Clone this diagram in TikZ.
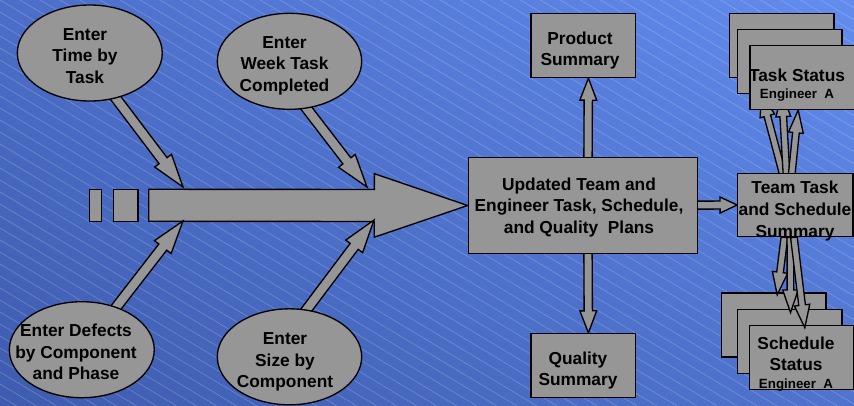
\documentclass[tikz,border=0pt]{standalone}
\usepackage{fontspec}
\setmainfont{Liberation Sans}
\usetikzlibrary{shapes.geometric,calc,shadings}

\definecolor{boxgray}{RGB}{150,150,150}
\definecolor{bgll}{RGB}{62,92,175}
\definecolor{bgul}{RGB}{76,110,200}
\definecolor{bglr}{RGB}{80,116,206}
\definecolor{bgur}{RGB}{98,140,238}

\pgfdeclarelayer{background}
\pgfdeclarelayer{connectors}
\pgfsetlayers{background,connectors,main}

\tikzset{every picture/.style={line width=0.75pt}}
\tikzset{
  sumbox/.style={draw, fill=boxgray, line width=1pt, minimum width=78.5pt, minimum height=48pt, inner sep=0pt},
  entry/.style={ellipse, draw, fill=boxgray, line width=1pt, inner sep=0pt, minimum width=108.7pt, minimum height=72pt},
  lbl/.style={inner sep=0pt, align=center, font=\fontsize{13}{16.3}\selectfont\bfseries},
  flowarrow/.style={draw, fill=boxgray, line width=1pt, line join=miter},
  hatch/.style={white, opacity=0.25, line width=0.4pt}
}

% block arrow: [back extension]{from}{to}{shaft half width}{head half width}{head length}
\newcommand{\blockarrow}[6][6pt]{%
  \coordinate (ba-s) at ($(#2)!-#1!(#3)$);
  \coordinate (ba-h) at ($(#3)!#6!(#2)$);
  \path[flowarrow] ($(ba-s)!#4!90:(#3)$) -- ($(ba-h)!#4!90:(#3)$) -- ($(ba-h)!#5!90:(#3)$) -- (#3)
    -- ($(ba-h)!#5!-90:(#3)$) -- ($(ba-h)!#4!-90:(#3)$) -- ($(ba-s)!#4!-90:(#3)$) -- cycle;}

\begin{document}
\begin{tikzpicture}[x=0.75pt,y=0.75pt,yscale=-1,xscale=1]
    \useasboundingbox (0,0) rectangle (854,405);

    % Background
    \begin{pgfonlayer}{background}
    \shade[lower left=bgll, upper left=bgul, lower right=bglr, upper right=bgur] (0,0) rectangle (854,405);
    \begin{scope}
    \clip (0,0) rectangle (854,405);
    \foreach \c in {-516,-504,...,408} \draw[hatch] (0,\c) -- (854,\c+512);
    \end{scope}
    \end{pgfonlayer}

    %Shape: Ellipse
    \node[entry] (time) at (89.8,53) {};
    %Shape: Ellipse
    \node[entry, minimum width=108.3pt] (week) at (289.5,61.3) {};
    %Shape: Ellipse
    \node[entry] (defect) at (81.8,349.7) {};
    %Shape: Ellipse
    \node[entry, minimum width=108.3pt] (size) at (289.5,356.8) {};

    %Shape: Rectangle
    \node[sumbox, minimum width=172pt, minimum height=71.7pt] (plan) at (583,205.5) {};
    %Shape: Rectangle
    \node[sumbox] (product) at (583.4,45.5) {};
    %Shape: Rectangle
    \node[sumbox] (quality) at (583.4,365.5) {};
    %Shape: Rectangle
    \node[sumbox, minimum width=86.5pt, minimum height=47.5pt] (team) at (795.4,205) {};

    %Shape: Rectangle stack
    \node[sumbox] (taskback) at (781.7,45.5) {};
    \node[sumbox] (taskmid) at (789.5,61.3) {};
    \node[sumbox] (taskfront) at (802.2,77.5) {};
    %Shape: Rectangle stack
    \node[sumbox] (schedback) at (773.7,325) {};
    \node[sumbox] (schedmid) at (789.5,341.3) {};
    \node[sumbox] (schedfront) at (801.8,357.3) {};

    %Shape: Rectangle
    \draw[flowarrow] (89.3,189.3) rectangle (101.3,221.3);
    %Shape: Rectangle
    \draw[flowarrow] (113.3,189.3) rectangle (138,221.3);

    \coordinate (flow-start) at (148.7,205.3);
    \coordinate (time-in) at (183,187);
    \coordinate (week-in) at (367,187);
    \coordinate (defect-in) at (183,221);
    \coordinate (size-in) at (374,220);
    \coordinate (plan-up) at ($(plan.north)+(5,0)$);
    \coordinate (product-in) at ($(product.south)+(5,0)$);
    \coordinate (plan-down) at ($(plan.south)+(5,0)$);
    \coordinate (quality-in) at ($(quality.north)+(5,0)$);
    \coordinate (team-up-a) at ($(team.north)+(-13,0)$);
    \coordinate (team-up-b) at ($(team.north)+(-9,0)$);
    \coordinate (team-up-c) at ($(team.north)+(-3.5,0)$);
    \coordinate (task-in-a) at ($(taskmid.south)+(-28,0)$);
    \coordinate (task-in-b) at ($(taskmid.south)+(-7.5,0)$);
    \coordinate (task-in-c) at ($(taskfront.south)+(-4,0)$);
    \coordinate (team-dn-a) at ($(team.south)+(-11,0)$);
    \coordinate (team-dn-b) at ($(team.south)+(-5,0)$);
    \coordinate (team-dn-c) at ($(team.south)+(-1.5,0)$);
    \coordinate (sched-in-a) at ($(schedback.north)+(3.5,2.5)$);
    \coordinate (sched-in-b) at ($(schedmid.north)+(1,4)$);
    \coordinate (sched-in-c) at ($(schedfront.north)+(3,3)$);

    %Block Arrows
    \begin{pgfonlayer}{connectors}
    \blockarrow[0pt]{flow-start}{plan.west}{12pt}{23.8pt}{70pt}
    \blockarrow{time.-60}{time-in}{3.75pt}{7.9pt}{24.75pt}
    \blockarrow{week.-70}{week-in}{3.75pt}{7.9pt}{24.75pt}
    \blockarrow{defect.51}{defect-in}{3.75pt}{7.9pt}{24.75pt}
    \blockarrow{size.70}{size-in}{3.75pt}{7.9pt}{24.75pt}
    \blockarrow{plan-up}{product-in}{3.1pt}{6.3pt}{16.5pt}
    \blockarrow{plan-down}{quality-in}{3.1pt}{6.3pt}{16.5pt}
    \blockarrow{plan}{team.west}{3pt}{6pt}{12.75pt}
    \blockarrow{team-up-a}{task-in-a}{2.5pt}{5.6pt}{17pt}
    \blockarrow{team-up-b}{task-in-b}{2.5pt}{5.6pt}{17pt}
    \blockarrow{team-up-c}{task-in-c}{2.5pt}{5.6pt}{17pt}
    \end{pgfonlayer}
    \blockarrow[0pt]{team-dn-a}{sched-in-a}{2.5pt}{5.8pt}{17pt}
    \blockarrow[0pt]{team-dn-b}{sched-in-b}{2.5pt}{5.8pt}{17pt}
    \blockarrow[0pt]{team-dn-c}{sched-in-c}{2.5pt}{5.8pt}{17pt}

    % Text Node
    \node[lbl] (time-txt) at (85,56) {Enter\\Time by\\Task};
    % Text Node
    \node[lbl] (week-txt) at (284.5,65.8) {Enter\\Week Task\\Completed};
    % Text Node
    \node[lbl] (defect-txt) at (76,352) {Enter Defects\\by Component\\and Phase};
    % Text Node
    \node[lbl] (size-txt) at (285,362) {Enter\\Size by\\Component};
    % Text Node
    \node[lbl] (plan-txt) at (579,207.5) {Updated Team and\\Engineer Task, Schedule,\\and Quality\ \ Plans};
    % Text Node
    \node[lbl] (product-txt) at (580,50.5) {Product\\Summary};
    % Text Node
    \node[lbl] (quality-txt) at (578,370.5) {Quality\\Summary};
    % Text Node
    \node[lbl] (team-txt) at (795,211) {Team Task\\and Schedule\\Summary};
    % Text Node
    \node[lbl] (task-txt) at (797,85) {Task Status\\[-3pt]{\fontsize{10}{12}\selectfont Engineer~~A}};
    % Text Node
    \node[lbl] (sched-txt) at (796,364) {Schedule\\Status\\[-3pt]{\fontsize{10}{12}\selectfont Engineer~~A}};
\end{tikzpicture}
\end{document}
